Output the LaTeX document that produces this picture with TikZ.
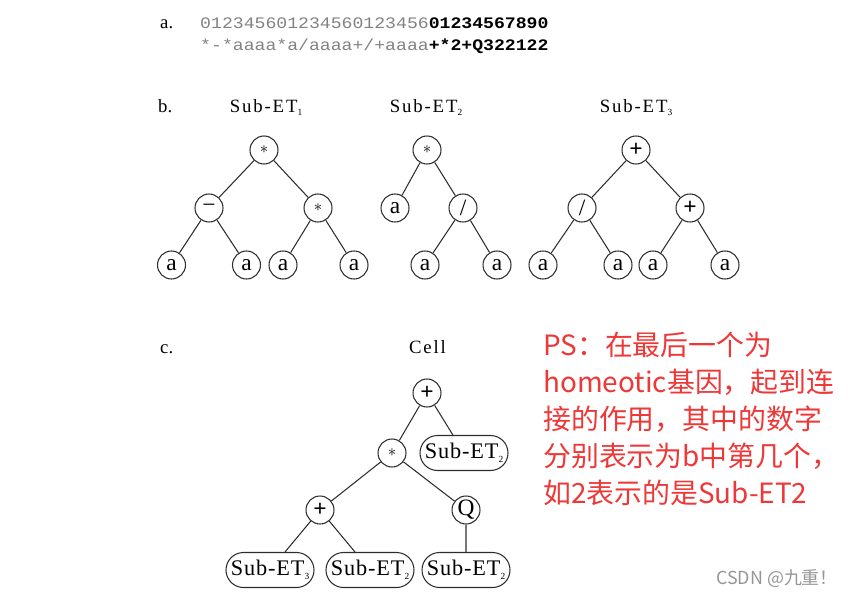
\documentclass[tikz,border=0pt]{standalone}
\usepackage{fontspec}
\setmainfont{Liberation Serif}
\newfontfamily\codefont[FakeStretch=1.13]{Liberation Mono}
\newfontfamily\titlefont[LetterSpace=10]{Liberation Serif}
\newfontfamily\boxfont[LetterSpace=4]{Liberation Serif}
\newfontfamily\cjkfont{Noto Sans CJK SC}
\usetikzlibrary{shapes.misc}
\definecolor{codegray}{RGB}{130,130,130}
\definecolor{notered}{RGB}{238,55,55}
\definecolor{markgray}{RGB}{150,150,150}
\definecolor{linegray}{RGB}{45,45,45}

\tikzset{
  opnode/.style={draw=linegray, line width=0.9pt, circle, minimum size=0.84cm, inner sep=0pt,
    font=\fontsize{20}{20}\selectfont},
  etbox/.style={draw=linegray, line width=0.9pt, rounded rectangle, minimum width=2.64cm,
    minimum height=1.05cm, inner sep=0pt, font=\boxfont\fontsize{19}{19}\selectfont},
  branch/.style={draw=linegray, line width=0.9pt},
  treetitle/.style={anchor=base, inner sep=0pt, font=\titlefont\fontsize{16}{16}\selectfont},
  partlabel/.style={anchor=base west, inner sep=0pt, font=\fontsize{16}{16}\selectfont},
  codeline/.style={anchor=base west, inner sep=0pt, text=codegray, font=\codefont\fontsize{13.7}{13.7}\selectfont},
  notetext/.style={anchor=base west, inner sep=0pt, text=notered, font=\cjkfont\fontsize{23.8}{23.8}\selectfont},
}
\newcommand{\opstar}{{\fontsize{15}{15}\selectfont$\ast$}}
\newcommand{\subidx}[1]{\raisebox{-0.35ex}{\fontsize{8}{8}\selectfont #1}}

\begin{document}
\begin{tikzpicture}[x=0.03cm, y=-0.03cm]
  \useasboundingbox (0,0) rectangle (853,599);

  % a. gene string
  \node[partlabel] (la) at (160,29) {a.};
  \node[codeline] (code1) at (200,29) {012345601234560123456\textbf{\color{black}01234567890}};
  \node[codeline] (code2) at (200,50.7) {*-*aaaa*a/aaaa+/+aaaa\textbf{\color{black}+*2+Q322122}};

  % b. sub expression trees
  \node[partlabel] (lb) at (158,112.5) {b.};
  \node[treetitle] (title1) at (266,112.5) {Sub-ET\subidx{1}};
  \node[treetitle] (title2) at (426,112.5) {Sub-ET\subidx{2}};
  \node[treetitle] (title3) at (636,112.5) {Sub-ET\subidx{3}};

  % Sub-ET 1
  \node[opnode] (t1r) at (264,150) {\opstar};
  \node[opnode] (t1a) at (209,208) {−};
  \node[opnode] (t1b) at (318,208) {\opstar};
  \node[opnode] (t1l1) at (171.5,265) {a};
  \node[opnode] (t1l2) at (246.5,265) {a};
  \node[opnode] (t1l3) at (283,265) {a};
  \node[opnode] (t1l4) at (354,265) {a};
  \draw[branch] (t1r) -- (t1a);
  \draw[branch] (t1r) -- (t1b);
  \draw[branch] (t1a) -- (t1l1);
  \draw[branch] (t1a) -- (t1l2);
  \draw[branch] (t1b) -- (t1l3);
  \draw[branch] (t1b) -- (t1l4);

  % Sub-ET 2
  \node[opnode] (t2r) at (427,150) {\opstar};
  \node[opnode] (t2a) at (395,208) {a};
  \node[opnode] (t2b) at (463,208) {/};
  \node[opnode] (t2l1) at (425,265) {a};
  \node[opnode] (t2l2) at (497,265) {a};
  \draw[branch] (t2r) -- (t2a);
  \draw[branch] (t2r) -- (t2b);
  \draw[branch] (t2b) -- (t2l1);
  \draw[branch] (t2b) -- (t2l2);

  % Sub-ET 3
  \node[opnode] (t3r) at (636,150) {\textbf{+}};
  \node[opnode] (t3a) at (582,208) {/};
  \node[opnode] (t3b) at (690,208) {\textbf{+}};
  \node[opnode] (t3l1) at (543,265) {a};
  \node[opnode] (t3l2) at (618,265) {a};
  \node[opnode] (t3l3) at (653,265) {a};
  \node[opnode] (t3l4) at (725,265) {a};
  \draw[branch] (t3r) -- (t3a);
  \draw[branch] (t3r) -- (t3b);
  \draw[branch] (t3a) -- (t3l1);
  \draw[branch] (t3a) -- (t3l2);
  \draw[branch] (t3b) -- (t3l3);
  \draw[branch] (t3b) -- (t3l4);

  % c. cell
  \node[partlabel] (lc) at (160,353) {c.};
  \node[treetitle] (celltitle) at (427.5,353) {Cell};
  \node[opnode] (cr) at (427,393) {\textbf{+}};
  \node[opnode] (cm) at (392,453) {\opstar};
  \node[etbox] (cs1) at (464,453) {Sub-ET\subidx{2}};
  \node[opnode] (cp) at (320,510) {\textbf{+}};
  \node[opnode] (cq) at (466,510) {Q};
  \node[etbox] (cs2) at (270,570) {Sub-ET\subidx{3}};
  \node[etbox] (cs3) at (370,570) {Sub-ET\subidx{2}};
  \node[etbox] (cs4) at (466,570) {Sub-ET\subidx{2}};
  \draw[branch] (cr) -- (cm);
  \draw[branch] (cr) -- (cs1);
  \draw[branch] (cm) -- (cp);
  \draw[branch] (cm) -- (cq);
  \draw[branch] (cp) -- (cs2);
  \draw[branch] (cp) -- (cs3);
  \draw[branch] (cq) -- (cs4);

  % note
  \node[notetext] (ps1) at (543,355) {PS：在最后一个为};
  \node[notetext] (ps2) at (543,392) {homeotic基因，起到连};
  \node[notetext] (ps3) at (543,429) {接的作用，其中的数字};
  \node[notetext] (ps4) at (543,466) {分别表示为b中第几个，};
  \node[notetext] (ps5) at (543,503) {如2表示的是Sub-ET2};

  % watermark
  \node[anchor=base east, inner sep=0pt, text=markgray, font=\cjkfont\fontsize{15.3}{15.3}\selectfont] (mark) at (838,584) {CSDN @九重！};
\end{tikzpicture}
\end{document}
